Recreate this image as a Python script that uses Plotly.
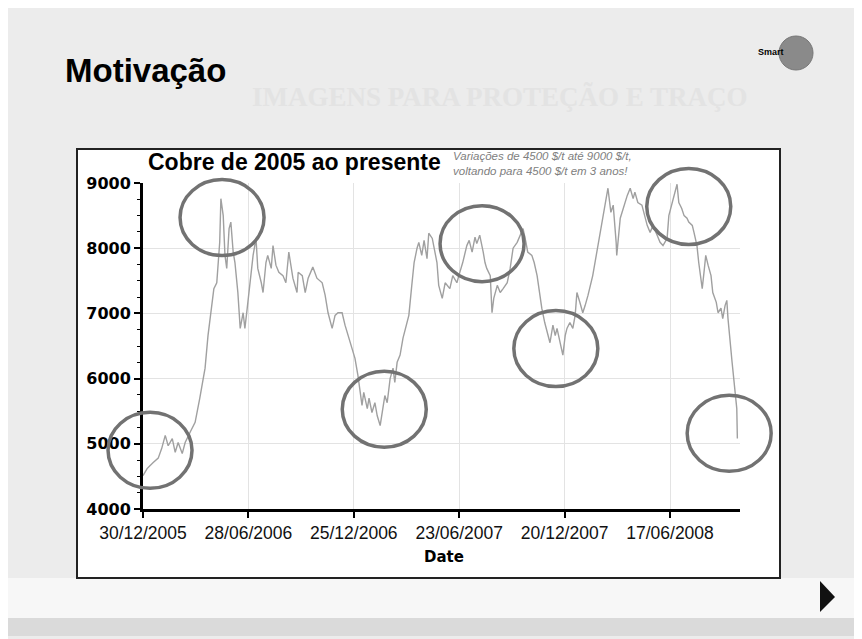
import pandas as pd
import plotly.graph_objects as go

# ---------------- data ----------------
start_date = "2005-12-30"
days_since_start = [
    0, 7, 17, 26, 32, 38, 43, 50, 55, 60, 67, 72, 80, 89, 97, 106, 111, 118, 121, 126,
    128, 131, 133, 137, 140, 143, 147, 150, 154, 157, 162, 166, 171, 174, 178, 183, 188, 193, 196, 202,
    205, 210, 213, 219, 222, 227, 232, 239, 244, 249, 256, 263, 265, 272, 277, 282, 290, 297, 306, 311,
    316, 323, 328, 333, 340, 345, 350, 357, 362, 367, 371, 374, 377, 383, 386, 391, 396, 400, 405, 410,
    413, 417, 422, 427, 430, 434, 439, 444, 451, 454, 459, 463, 468, 471, 476, 480, 485, 488, 494, 497,
    502, 505, 511, 516, 524, 529, 536, 541, 546, 553, 557, 562, 567, 570, 575, 581, 584, 587, 593, 596,
    599, 605, 610, 615, 622, 627, 632, 639, 644, 649, 654, 657, 664, 668, 673, 676, 681, 686, 690, 695,
    700, 704, 707, 712, 717, 721, 724, 729, 734, 738, 741, 746, 751, 755, 760, 768, 775, 780, 786, 792,
    794, 799, 803, 808, 809, 815, 820, 827, 832, 837, 840, 845, 852, 856, 861, 866, 871, 878, 883, 888,
    895, 898, 903, 909, 912, 915, 920, 924, 929, 932, 938, 941, 946, 949, 955, 958, 961, 965, 970, 973,
    979, 982, 987, 990, 994, 997, 999, 1006, 1011, 1014, 1015,
]
copper_price = [
    4510, 4620, 4710, 4780, 4930, 5130, 4970, 5080, 4870, 5020, 4850, 5020, 5170, 5330, 5700, 6160, 6660, 7170, 7380, 7470,
    7740, 8090, 8760, 8500, 7890, 7690, 8300, 8400, 7940, 7780, 7320, 6770, 7010, 6770, 7080, 7470, 7890, 8150, 7690, 7470,
    7320, 7780, 7890, 7690, 8040, 7740, 7630, 7580, 7470, 7940, 7540, 7320, 7630, 7580, 7320, 7540, 7710, 7540, 7470, 7280,
    7010, 6770, 6970, 7010, 7010, 6820, 6660, 6460, 6310, 6050, 5740, 5590, 5790, 5540, 5700, 5480, 5630, 5430, 5280, 5540,
    5740, 5630, 6000, 6160, 5940, 6250, 6360, 6620, 6860, 6970, 7430, 7780, 8000, 8090, 7890, 8120, 7840, 8230, 8150, 8000,
    7780, 7430, 7230, 7470, 7380, 7580, 7470, 7630, 7780, 8040, 8120, 7940, 8170, 8070, 8200, 7940, 7780, 7690, 7580, 7010,
    7230, 7430, 7320, 7380, 7470, 7690, 8000, 8090, 8200, 8300, 8090, 7940, 7890, 7780, 7580, 7380, 7080, 6860, 6710, 6550,
    6820, 6660, 6770, 6550, 6360, 6660, 6770, 6860, 6770, 6970, 7320, 7170, 7010, 7120, 7280, 7580, 7940, 8200, 8500, 8760,
    8920, 8550, 8660, 8090, 7890, 8460, 8610, 8810, 8920, 8760, 8860, 8700, 8660, 8500, 8350, 8240, 8350, 8200, 8090, 8040,
    8150, 8500, 8660, 8860, 8980, 8700, 8610, 8500, 8460, 8400, 8350, 8240, 8040, 7780, 7380, 7630, 7890, 7740, 7580, 7320,
    7170, 7010, 7080, 6920, 7120, 7200, 6920, 6250, 5740, 5540, 5080,
]
x_tick_days = [0, 180, 360, 540, 720, 900]
y_tick_values = [4000, 5000, 6000, 7000, 8000, 9000]
# highlighted episodes (days since start, price)
circle_days = [12, 135, 412, 579, 705, 932, 1001]
circle_prices = [4900, 8470, 5530, 8070, 6460, 8640, 5160]

# ---------------- figure ----------------
OFF = 8  # page body margin
W, H = 854, 631
L, T = 135, 175
plot_w, plot_h = 597, 326
R = W - L - plot_w
B = H - T - plot_h
t0 = pd.Timestamp(start_date)
dates = t0 + pd.to_timedelta(days_since_start, unit="D")
x_end_days = 1019.5
x_end = t0 + pd.Timedelta(days=x_end_days)
tick_dates = [t0 + pd.Timedelta(days=d) for d in x_tick_days]
tick_text = [d.strftime("%d/%m/%Y") for d in tick_dates]


def px(x):  # window pixel -> paper
    return (x - OFF - L) / plot_w


def py(y):
    return (H - B - (y - OFF)) / plot_h


fig = go.Figure()
fig.add_trace(go.Scatter(
    x=dates, y=copper_price, mode="lines",
    line=dict(color="#a0a0a0", width=1.4),
    hoverinfo="x+y", showlegend=False,
))

shapes = []
# lighter lower part of slide and bottom gray band
shapes.append(dict(type="rect", xref="paper", yref="paper", x0=px(8), x1=px(862), y0=py(618), y1=py(578),
                   fillcolor="#f7f7f7", line=dict(width=0), layer="below"))
shapes.append(dict(type="rect", xref="paper", yref="paper", x0=px(8), x1=px(862), y0=py(636), y1=py(618),
                   fillcolor="#dadada", line=dict(width=0), layer="below"))
# chart box
shapes.append(dict(type="rect", xref="paper", yref="paper", x0=px(77), x1=px(780), y0=py(578), y1=py(149),
                   fillcolor="white", line=dict(color="#222", width=2), layer="below"))

# circles around the episodes (positions taken from the axes)
rx_px, ry_px = 42, 38
for d, p in zip(circle_days, circle_prices):
    cx = d / x_end_days
    cy = (p - 4000) / 5000
    shapes.append(dict(type="circle", xref="paper", yref="paper",
                       x0=cx - rx_px / plot_w, x1=cx + rx_px / plot_w,
                       y0=cy - ry_px / plot_h, y1=cy + ry_px / plot_h,
                       line=dict(color="#727272", width=3.5), layer="above"))

# logo circle
shapes.append(dict(type="circle", xref="paper", yref="paper", x0=px(779), x1=px(813), y0=py(70), y1=py(36),
                   fillcolor="#8a8a8a", line=dict(color="#777", width=1)))
# next-slide arrow
shapes.append(dict(type="path", xref="paper", yref="paper",
                   path=f"M {px(820)} {py(581)} L {px(835)} {py(597)} L {px(820)} {py(612)} Z",
                   fillcolor="#111", line=dict(width=0)))

annotations = [
    dict(text="<b>IMAGENS PARA PROTEÇÃO E TRAÇO</b>", x=px(250), y=py(97), xref="paper", yref="paper",
         xanchor="left", yanchor="middle", showarrow=False,
         font=dict(family="Liberation Serif", size=27, color="#e3e3e3")),
    dict(text="<b>Motivação</b>", x=px(63), y=py(70), xref="paper", yref="paper",
         xanchor="left", yanchor="middle", showarrow=False,
         font=dict(family="Liberation Sans", size=33, color="black")),
    dict(text="<b>Cobre de 2005 ao presente</b>", x=px(146), y=py(162), xref="paper", yref="paper",
         xanchor="left", yanchor="middle", showarrow=False,
         font=dict(family="Liberation Sans", size=23, color="black")),
    dict(text="<i>Variações de 4500 $/t até 9000 $/t,<br>voltando para 4500 $/t em 3 anos!</i>",
         x=px(451), y=py(164), xref="paper", yref="paper", align="left",
         xanchor="left", yanchor="middle", showarrow=False,
         font=dict(family="Liberation Sans", size=11.5, color="#808080")),
    dict(text="<b>Date</b>", x=px(444), y=py(557), xref="paper", yref="paper",
         xanchor="center", yanchor="middle", showarrow=False,
         font=dict(family="DejaVu Sans", size=15, color="black")),
    dict(text="<b>Smart</b>", x=px(786), y=py(52), xref="paper", yref="paper",
         xanchor="right", yanchor="middle", showarrow=False,
         font=dict(family="Liberation Sans", size=9, color="black")),
]

fig.update_layout(
    width=W, height=H,
    margin=dict(l=L, r=R, t=T, b=B, pad=0),
    paper_bgcolor="#ececec",
    plot_bgcolor="rgba(0,0,0,0)",
    shapes=shapes,
    annotations=annotations,
    showlegend=False,
)
fig.update_xaxes(
    type="date", range=[t0, x_end],
    tickvals=tick_dates, ticktext=tick_text,
    tickfont=dict(family="Liberation Sans", size=17.5, color="#111"),
    ticks="outside", ticklen=6, tickwidth=2, tickcolor="black",
    showline=True, linewidth=3, linecolor="black",
    showgrid=True, gridcolor="#e3e3e3", gridwidth=1, zeroline=False,
)
fig.update_yaxes(
    range=[4000, 9000], tickvals=y_tick_values,
    tickfont=dict(family="DejaVu Sans", size=16, color="black", weight="bold"),
    ticks="outside", ticklen=6, tickwidth=2, tickcolor="black",
    minor=dict(ticks="outside", ticklen=3, tickwidth=1, tickcolor="black", dtick=250, showgrid=False),
    showline=True, linewidth=3, linecolor="black",
    showgrid=True, gridcolor="#e3e3e3", gridwidth=1, zeroline=False,
)

fig.write_html("out.html")
